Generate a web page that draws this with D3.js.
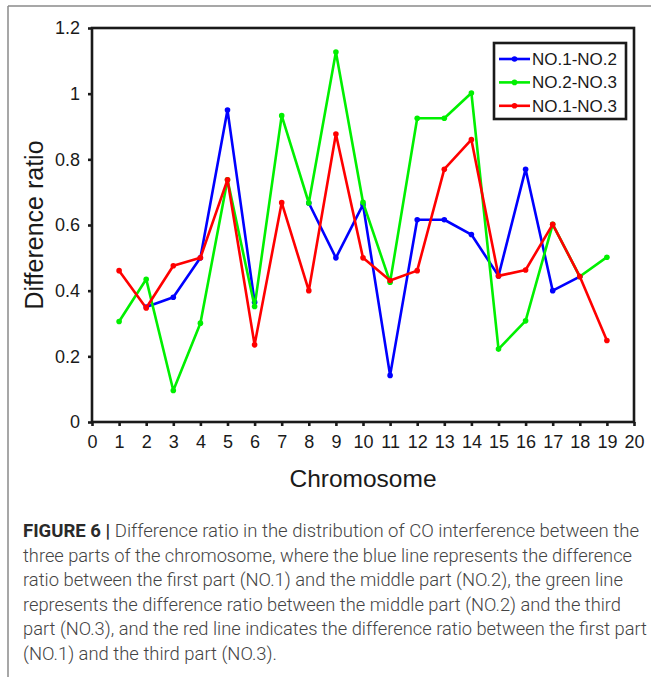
<!DOCTYPE html>
<html>
<head>
<meta charset="utf-8">
<script src="https://cdn.jsdelivr.net/npm/d3@7"></script>
<style>
  body { margin: 0; background: #fff; }
  svg { display: block; }
</style>
</head>
<body>
<script>
const width = 651;
const height = 677;
const plotLeft = 92;
const plotRight = 634;
const plotTop = 28;
const plotBottom = 422;
const axisFont = "'Liberation Sans', Arial, sans-serif";
const captionFont = "'Liberation Sans Narrow', Roboto, 'Liberation Sans', sans-serif";

// chromosome numbers 1..19
const chromosomes = [1, 2, 3, 4, 5, 6, 7, 8, 9, 10, 11, 12, 13, 14, 15, 16, 17, 18, 19];
// null = no point drawn for that chromosome
const blueValues = [null, 0.35, 0.38, 0.5, 0.95, 0.365, null, 0.667, 0.5, 0.662, 0.142, 0.616, 0.616, 0.571, 0.445, 0.77, 0.4, 0.443, null];
const greenValues = [0.306, 0.435, 0.096, 0.301, 0.738, 0.352, 0.933, 0.667, 1.127, 0.669, 0.426, 0.925, 0.925, 1.002, 0.222, 0.308, 0.602, 0.443, 0.502];
const redValues = [0.461, 0.347, 0.476, 0.5, 0.738, 0.235, 0.668, 0.4, 0.877, 0.5, 0.431, 0.461, 0.77, 0.86, 0.445, 0.463, 0.602, 0.443, 0.248];

const seriesNames = ["NO.1-NO.2", "NO.2-NO.3", "NO.1-NO.3"];
const seriesColors = ["#0000ff", "#00f000", "#ff0000"];
const seriesValues = [blueValues, greenValues, redValues];

const xTicks = d3.range(0, 21);
const yTicks = [0, 0.2, 0.4, 0.6, 0.8, 1, 1.2];

const captionBold = "FIGURE 6 |";
const captionLines = [
  " Difference ratio in the distribution of CO interference between the",
  "three parts of the chromosome, where the blue line represents the difference",
  "ratio between the first part (NO.1) and the middle part (NO.2), the green line",
  "represents the difference ratio between the middle part (NO.2) and the third",
  "part (NO.3), and the red line indicates the difference ratio between the first part",
  "(NO.1) and the third part (NO.3)."
];
// right ends of the caption lines
const captionEnds = [639, 632, 623, 621, 647, 277];

const svg = d3
  .select("body")
  .append("svg")
  .attr("width", width)
  .attr("height", height);

// page border (top and left)
svg.append("line")
  .attr("x1", 8).attr("x2", width).attr("y1", 6).attr("y2", 6)
  .attr("stroke", "#8a8a8a").attr("stroke-width", 1.5);
svg.append("line")
  .attr("x1", 8).attr("x2", 8).attr("y1", 6).attr("y2", height)
  .attr("stroke", "#8a8a8a").attr("stroke-width", 1.5);

const x = d3.scaleLinear().domain([0, 20]).range([plotLeft, plotRight]);
const y = d3.scaleLinear().domain([0, 1.2]).range([plotBottom, plotTop]);

// frame
svg.append("rect")
  .attr("x", plotLeft)
  .attr("y", plotTop)
  .attr("width", plotRight - plotLeft)
  .attr("height", plotBottom - plotTop)
  .attr("fill", "none")
  .attr("stroke", "#1a1a1a")
  .attr("stroke-width", 2.6);

const xAxis = svg.append("g")
  .attr("transform", "translate(0," + plotBottom + ")")
  .call(d3.axisBottom(x).tickValues(xTicks).tickSize(4).tickPadding(9).tickFormat(d3.format("d")));

const yAxis = svg.append("g")
  .attr("transform", "translate(" + plotLeft + ",0)")
  .call(d3.axisLeft(y).tickValues(yTicks).tickSize(4).tickPadding(8).tickFormat(d3.format("~g")));

[xAxis, yAxis].forEach(function (a) {
  a.select(".domain").remove();
  a.selectAll(".tick line").attr("stroke", "#1a1a1a").attr("stroke-width", 2.6);
  a.selectAll(".tick text")
    .attr("fill", "#1a1a1a")
    .style("font-family", axisFont)
    .style("font-size", "18px");
});

// axis titles
svg.append("text")
  .attr("x", (plotLeft + plotRight) / 2)
  .attr("y", 487)
  .attr("text-anchor", "middle")
  .style("font-family", axisFont)
  .style("font-size", "24.5px")
  .attr("fill", "#1a1a1a")
  .text("Chromosome");

svg.append("text")
  .attr("transform", "translate(43," + (plotTop + plotBottom) / 2 + ")rotate(-90)")
  .attr("text-anchor", "middle")
  .style("font-family", axisFont)
  .style("font-size", "25px")
  .attr("fill", "#1a1a1a")
  .text("Difference ratio");

// lines
const line = d3.line()
  .defined(function (d) { return d.v !== null; })
  .x(function (d) { return x(d.c); })
  .y(function (d) { return y(d.v); });

seriesValues.forEach(function (vals, i) {
  const pts = chromosomes.map(function (c, j) { return { c: c, v: vals[j] }; });
  const g = svg.append("g");
  g.append("path")
    .datum(pts)
    .attr("d", line)
    .attr("fill", "none")
    .attr("stroke", seriesColors[i])
    .attr("stroke-width", 2.6)
    .attr("stroke-linejoin", "round");
  g.selectAll("circle")
    .data(pts.filter(function (d) { return d.v !== null; }))
    .enter()
    .append("circle")
    .attr("cx", function (d) { return x(d.c); })
    .attr("cy", function (d) { return y(d.v); })
    .attr("r", 2.8)
    .attr("fill", seriesColors[i]);
});

// legend
const legend = svg.append("g");
legend.append("rect")
  .attr("x", 494).attr("y", 43)
  .attr("width", 132).attr("height", 76)
  .attr("fill", "#fff")
  .attr("stroke", "#1a1a1a")
  .attr("stroke-width", 2.6);

seriesNames.forEach(function (name, i) {
  const ly = 59 + i * 23.4;
  legend.append("line")
    .attr("x1", 499).attr("x2", 530).attr("y1", ly).attr("y2", ly)
    .attr("stroke", seriesColors[i]).attr("stroke-width", 2.6);
  legend.append("circle")
    .attr("cx", 514.5).attr("cy", ly).attr("r", 2.8)
    .attr("fill", seriesColors[i]);
  legend.append("text")
    .attr("x", 532).attr("y", ly + 6)
    .style("font-family", axisFont)
    .style("font-size", "17px")
    .attr("fill", "#1a1a1a")
    .text(name);
});

// caption
const captionX = 23;
const captionY0 = 537;
const captionStep = 24.6;
const caption = svg.append("g")
  .style("font-family", captionFont)
  .style("font-size", "17.5px")
  .style("font-weight", 300)
  .attr("fill", "#444");

captionLines.forEach(function (t, i) {
  const el = caption.append("text")
    .attr("x", captionX)
    .attr("y", captionY0 + i * captionStep)
    .attr("textLength", captionEnds[i] - captionX)
    .attr("lengthAdjust", "spacingAndGlyphs");
  if (i === 0) {
    el.append("tspan").style("font-weight", "bold").attr("fill", "#2a2a2a").text(captionBold);
  }
  el.append("tspan").text(t);
});
</script>
</body>
</html>
